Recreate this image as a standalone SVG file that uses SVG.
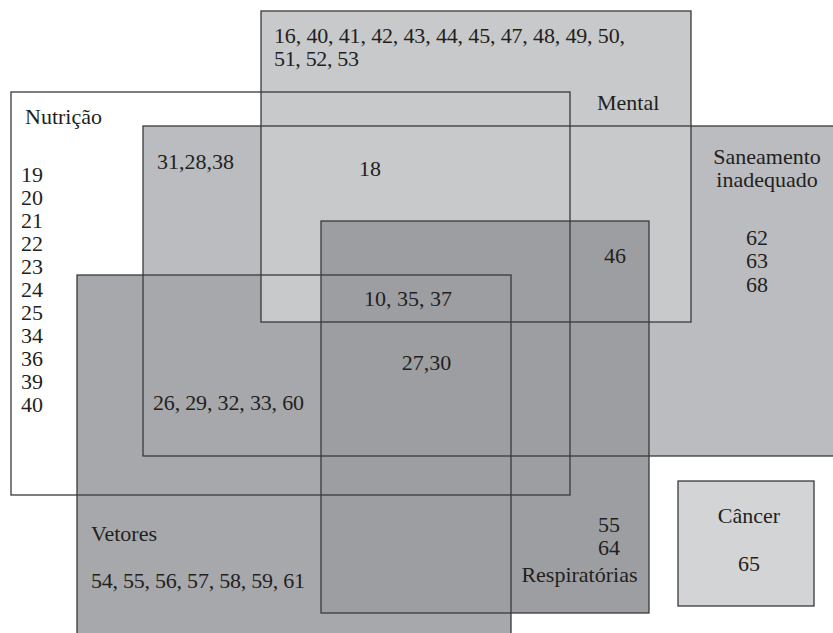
<svg xmlns="http://www.w3.org/2000/svg" width="833" height="633" viewBox="0 0 833 633" font-family="'Liberation Serif', 'DejaVu Serif', serif" font-size="22">
<style>
  text { font-family: 'Liberation Serif', 'DejaVu Serif', serif; font-size: 22px; fill: #231f20; }
  .frame { fill: none; stroke: #3a3a3c; stroke-width: 1.3; }
  .mid { text-anchor: middle; }
  .end { text-anchor: end; }
</style>
<rect x="0" y="0" width="833" height="633" fill="#ffffff"/>

<g id="nutricao">
  <rect x="11" y="92" width="559" height="403" fill="#ffffff"/>
  <text x="25" y="124">Nutrição</text>
  <text x="21" y="181.7">19</text>
  <text x="21" y="204.8">20</text>
  <text x="21" y="227.8">21</text>
  <text x="21" y="250.9">22</text>
  <text x="21" y="273.9">23</text>
  <text x="21" y="297">24</text>
  <text x="21" y="320">25</text>
  <text x="21" y="343.1">34</text>
  <text x="21" y="366.2">36</text>
  <text x="21" y="389.2">39</text>
  <text x="21" y="412.3">40</text>
</g>

<g id="saneamento">
  <rect x="143" y="126" width="700" height="330" fill="#bbbcc0"/>
  <text class="mid" x="767" y="164">Saneamento</text>
  <text class="mid" x="767" y="187">inadequado</text>
  <text class="mid" x="757" y="245">62</text>
  <text class="mid" x="757" y="268.3">63</text>
  <text class="mid" x="757" y="291.7">68</text>
</g>

<g id="vetores">
  <rect x="77" y="275" width="434" height="370" fill="#a7a8ac"/>
  <text x="91" y="540.7">Vetores</text>
  <text x="91" y="588" textLength="214" lengthAdjust="spacing">54, 55, 56, 57, 58, 59, 61</text>
</g>

<g id="mental">
  <rect x="261" y="11" width="430" height="311" fill="#c8c9cb"/>
  <text x="274" y="42.7" textLength="351" lengthAdjust="spacing">16, 40, 41, 42, 43, 44, 45, 47, 48, 49, 50,</text>
  <text x="274" y="65.7" textLength="85" lengthAdjust="spacing">51, 52, 53</text>
  <text x="597" y="110">Mental</text>
</g>

<g id="respiratorias">
  <rect x="321" y="221" width="328" height="392" fill="#9d9ea2"/>
  <text class="mid" x="609" y="531.7">55</text>
  <text class="mid" x="609" y="555">64</text>
  <text class="end" x="637.5" y="581.7">Respiratórias</text>
</g>

<g id="cancer">
  <rect x="678" y="481" width="136" height="125" fill="#d3d4d6" stroke="#3a3a3c" stroke-width="1.3"/>
  <text class="mid" x="749" y="523.3">Câncer</text>
  <text class="mid" x="749" y="571">65</text>
</g>

<g id="frames">
  <rect class="frame" x="143" y="126" width="700" height="330"/>
  <rect class="frame" x="77" y="275" width="434" height="370"/>
  <rect class="frame" x="261" y="11" width="430" height="311"/>
  <rect class="frame" x="321" y="221" width="328" height="392"/>
  <rect class="frame" x="11" y="92" width="559" height="403"/>
</g>

<g id="intersection-labels">
  <text x="157" y="169.3">31,28,38</text>
  <text class="mid" x="370" y="176">18</text>
  <text class="mid" x="408" y="305.7">10, 35, 37</text>
  <text class="mid" x="426.5" y="370">27,30</text>
  <text x="153" y="410" textLength="151" lengthAdjust="spacing">26, 29, 32, 33, 60</text>
  <text class="mid" x="615" y="263.3">46</text>
</g>
</svg>
